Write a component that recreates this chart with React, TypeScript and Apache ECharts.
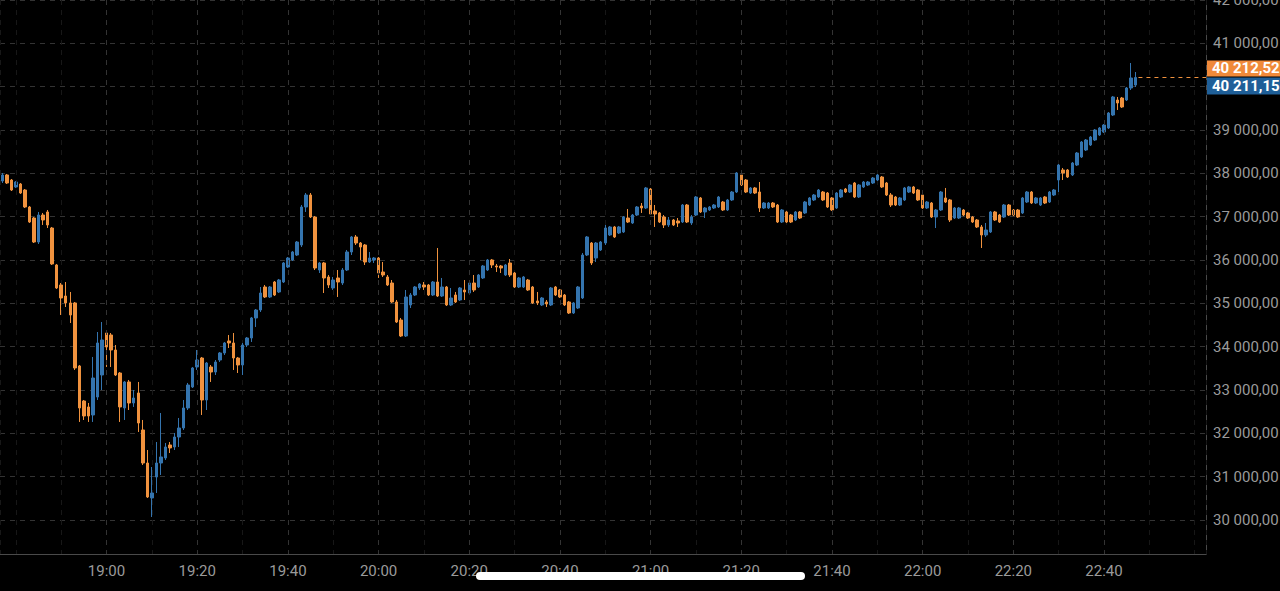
import React, { useEffect, useRef } from "react";
import * as echarts from "echarts";

// first candle time (1-minute candles), minutes relative to 19:00
const startTime = "18:37";
const axisAnchorHour = 19;

const opens = [
  37823, 37962, 37846, 37685, 37754, 37615, 37223, 36969, 36415, 37038,
  37108, 36738, 35885, 35423, 35169, 35008, 35008, 33554, 32746, 32608,
  32423, 32838, 33346, 34315, 34269, 33923, 33392, 32585, 33185, 32700,
  32931, 32077, 31315, 30508, 30992, 31315, 31431, 31731, 31685, 31915,
  32123, 32585, 33069, 33531, 33738, 32769, 33531, 33415, 33692, 33854,
  34131, 34085, 33738, 33577, 34038, 34200, 34662, 34846, 35377, 35146,
  35492, 35262, 35492, 35838, 36000, 36115, 36346, 37223, 37500, 36992,
  35769, 35931, 35608, 35354, 35585, 35469, 35769, 36185, 36531, 36392,
  36346, 35954, 36000, 36046, 35723, 35608, 35469, 35031, 34615, 34246,
  34962, 35192, 35354, 35423, 35423, 35192, 35492, 35169, 35377, 34962,
  35192, 35077, 35308, 35238, 35469, 35377, 35585, 35769, 36000, 35862,
  35862, 35654, 35931, 35700, 35377, 35377, 35538, 35377, 35054, 34962,
  35031, 34962, 35377, 35308, 35192, 35031, 34777, 34892, 35123, 36115,
  36392, 36046, 36231, 36392, 36577, 36762, 36623, 36646, 36969, 36854,
  37038, 37246, 37200, 37638, 37131, 37085, 36992, 36808, 36923, 36900,
  36877, 37269, 36854, 37038, 37431, 37108, 37154, 37200, 37223, 37338,
  37154, 37385, 37569, 37962, 37846, 37546, 37662, 37569, 37200, 37200,
  37315, 37269, 36877, 37108, 37038, 36923, 37108, 37085, 37269, 37385,
  37454, 37569, 37546, 37431, 37200, 37454, 37638, 37569, 37777, 37454,
  37685, 37731, 37777, 37846, 37915, 37777, 37500, 37454, 37269, 37385,
  37569, 37685, 37615, 37500, 37200, 37315, 36992, 37154, 37431, 37385,
  36969, 36969, 37154, 37085, 36992, 36923, 36762, 36577, 36646, 37108,
  37038, 36992, 37269, 37154, 37154, 37085, 37338, 37569, 37315, 37269,
  37454, 37338, 37500, 37846, 38077, 38077, 37962, 38192, 38377, 38538,
  38654, 38769, 38885, 38954, 39046, 39346, 39692, 39738, 39692, 39969,
  40038,
];

const closes = [
  37962, 37777, 37615, 37800, 37546, 37223, 36877, 36415, 37038, 36923,
  36808, 35908, 35354, 35123, 35008, 34731, 33508, 32585, 32400, 32400,
  33277, 34085, 34154, 33992, 33923, 33346, 32608, 33185, 32700, 32815,
  32238, 31315, 30531, 30623, 31315, 31454, 31685, 31662, 31915, 32123,
  32585, 33115, 33508, 33692, 32769, 33623, 33415, 33646, 33854, 34085,
  34085, 33738, 33577, 34038, 34200, 34662, 34846, 35238, 35146, 35377,
  35192, 35538, 35931, 36046, 36185, 36415, 37223, 37500, 36992, 35815,
  35931, 35585, 35423, 35538, 35492, 35769, 36185, 36531, 36392, 36300,
  35954, 36046, 36046, 35700, 35654, 35423, 35031, 34569, 34246, 35146,
  35192, 35377, 35446, 35377, 35192, 35492, 35169, 35377, 34962, 35123,
  35031, 35354, 35262, 35469, 35308, 35654, 35862, 36000, 35885, 35838,
  35815, 35885, 35654, 35377, 35585, 35608, 35308, 35008, 35008, 35123,
  34985, 35354, 35192, 35146, 34962, 34777, 35008, 35377, 36115, 36531,
  35931, 36392, 36415, 36738, 36762, 36531, 36762, 36992, 36877, 37038,
  37223, 37200, 37662, 37062, 37062, 36877, 36808, 36923, 36808, 36854,
  37269, 36877, 36992, 37454, 37108, 37200, 37223, 37269, 37454, 37154,
  37385, 37569, 38008, 37731, 37569, 37662, 37546, 37200, 37315, 37315,
  37223, 36877, 37154, 36877, 36877, 37108, 36969, 37338, 37431, 37500,
  37615, 37385, 37223, 37154, 37546, 37615, 37569, 37731, 37454, 37731,
  37800, 37800, 37892, 37962, 37685, 37500, 37269, 37269, 37431, 37662,
  37685, 37546, 37385, 37200, 37338, 36992, 37154, 37569, 37338, 36923,
  37200, 37200, 37038, 36969, 36877, 36762, 36577, 36692, 37108, 36923,
  36877, 37269, 37038, 37038, 36992, 37431, 37569, 37315, 37431, 37431,
  37315, 37569, 37615, 38192, 38008, 37915, 38238, 38469, 38723, 38769,
  38838, 39000, 39046, 39115, 39392, 39762, 39623, 39531, 39969, 40200,
  40212.52,
];

const lows = [
  37777, 37754, 37592, 37662, 37523, 37200, 36854, 36392, 36369, 36808,
  36738, 35885, 35331, 34731, 34915, 34546, 33462, 32262, 32308, 32262,
  32262, 32769, 33000, 33531, 33531, 33323, 32262, 32308, 32538, 32608,
  32031, 31269, 30508, 30069, 30623, 31038, 31385, 31546, 31615, 31685,
  32077, 32538, 33046, 33462, 32423, 32538, 33185, 33346, 33646, 33808,
  33969, 33462, 33392, 33346, 33992, 34108, 34454, 34800, 35123, 35123,
  35169, 35238, 35469, 35815, 35977, 36092, 36300, 37108, 36969, 35769,
  35700, 35238, 35354, 35308, 35146, 35423, 35746, 36115, 36346, 36000,
  35885, 35931, 35931, 35585, 35608, 35400, 35008, 34546, 34223, 34223,
  34892, 35169, 35308, 35308, 35169, 35169, 35146, 35146, 34938, 34938,
  35008, 35054, 35077, 35215, 35262, 35354, 35562, 35746, 35815, 35723,
  35700, 35631, 35608, 35354, 35354, 35354, 35285, 34985, 34962, 34938,
  34915, 34938, 35169, 35123, 34938, 34754, 34754, 34869, 35100, 36092,
  35885, 35954, 36208, 36346, 36554, 36508, 36600, 36623, 36854, 36831,
  37015, 37085, 37177, 37038, 36762, 36854, 36738, 36762, 36785, 36762,
  36854, 36854, 36808, 37015, 37085, 36969, 37131, 37177, 37200, 37131,
  37131, 37362, 37546, 37708, 37546, 37523, 37523, 37108, 37177, 37177,
  37200, 36854, 36854, 36854, 36854, 36900, 36946, 37062, 37246, 37362,
  37431, 37362, 37200, 37131, 37177, 37431, 37546, 37546, 37431, 37431,
  37662, 37708, 37754, 37823, 37662, 37477, 37223, 37246, 37246, 37362,
  37546, 37523, 37362, 37177, 37177, 36969, 36738, 37131, 37315, 36877,
  36946, 36946, 37015, 36946, 36854, 36738, 36277, 36531, 36623, 36900,
  36854, 36969, 37015, 37015, 36969, 37062, 37315, 37292, 37292, 37246,
  37292, 37315, 37477, 37569, 37846, 37892, 37938, 38169, 38354, 38515,
  38631, 38746, 38862, 38931, 39023, 39323, 39462, 39508, 39669, 39923,
  39992,
];

const highs = [
  38008, 37985, 37869, 37823, 37777, 37638, 37246, 36992, 37108, 37085,
  37154, 36762, 35908, 35469, 35492, 35262, 35031, 33577, 32769, 32700,
  33762, 34338, 34569, 34338, 34315, 34038, 33415, 33208, 33231, 33000,
  33185, 32308, 31615, 31223, 31800, 32469, 31777, 31800, 32008, 32354,
  32769, 33162, 33531, 33923, 33762, 33646, 33577, 33692, 33877, 34108,
  34269, 34315, 33762, 34085, 34223, 34685, 34869, 35377, 35423, 35400,
  35515, 35562, 35954, 36069, 36208, 36438, 37269, 37546, 37546, 37015,
  35954, 35954, 35654, 35608, 35769, 35815, 36231, 36554, 36577, 36415,
  36369, 36185, 36069, 36069, 35954, 35654, 35538, 35077, 34662, 35308,
  35238, 35400, 35469, 35492, 35446, 35515, 36277, 35585, 35400, 35354,
  35262, 35377, 35538, 35492, 35654, 35677, 35885, 36023, 36023, 35908,
  35885, 35908, 36023, 35723, 35608, 35631, 35562, 35400, 35262, 35146,
  35077, 35377, 35400, 35331, 35215, 35054, 35031, 35400, 36162, 36554,
  36415, 36415, 36438, 36808, 36785, 36785, 36785, 37015, 37177, 37062,
  37246, 37315, 37685, 37662, 37269, 37108, 37038, 36992, 36946, 36969,
  37292, 37292, 37038, 37477, 37454, 37223, 37246, 37292, 37477, 37362,
  37408, 37592, 38031, 37985, 37869, 37685, 37685, 37800, 37338, 37338,
  37338, 37292, 37177, 37131, 37062, 37131, 37131, 37362, 37454, 37523,
  37638, 37592, 37569, 37454, 37569, 37638, 37662, 37754, 37800, 37754,
  37823, 37823, 37915, 37985, 37938, 37800, 37546, 37477, 37454, 37685,
  37708, 37708, 37638, 37523, 37362, 37338, 37177, 37592, 37662, 37408,
  37223, 37223, 37177, 37108, 37015, 36946, 36808, 36854, 37131, 37131,
  37062, 37292, 37292, 37177, 37177, 37454, 37592, 37592, 37454, 37454,
  37477, 37592, 37638, 38215, 38123, 38100, 38262, 38492, 38746, 38792,
  38862, 39023, 39069, 39138, 39415, 39785, 39762, 39762, 39992, 40546,
  40338,
];

const askPrice = 40212.52;
const bidPrice = 40211.15;

// visible time labels (minutes relative to 19:00)
const labelFrom = 0;
const labelTo = 220;

const yMin = 29215;
const yMax = 42000;
const yStep = 1000;
const xStep = 20;
const xMinorStep = 10;

const BLUE = "#3474ae";
const ORANGE = "#f0923e";
const TAG_ORANGE = "#f08a3a";
const TAG_BLUE = "#1f5f98";
const GRID = "#333333";
const GRID_FAINT = "#171717";

function fmtPrice(v: number): string {
  const [i, d] = v.toFixed(2).split(".");
  return i.replace(/\B(?=(\d{3})+(?!\d))/g, " ") + "," + d;
}

function startOffset(): number {
  const [h, m] = startTime.split(":").map(Number);
  return h * 60 + m - axisAnchorHour * 60;
}

function fmtTime(v: number): string {
  const t = Math.round(axisAnchorHour * 60 + v);
  const h = Math.floor(t / 60) % 24;
  const m = ((t % 60) + 60) % 60;
  return `${h}:${m < 10 ? "0" + m : m}`;
}

export default function App() {
  const ref = useRef<HTMLDivElement>(null);

  useEffect(() => {
    if (!ref.current) return;
    const chart = echarts.init(ref.current, undefined, { renderer: "svg" });
    const off = startOffset();
    const data = opens.map((o, i) => [off + i, o, closes[i], lows[i], highs[i]]);
    const lastX = off + opens.length - 1;
    const xMin = off - 0.5;
    const xMax = 242.5;

    // split line colours, one per tick: [xMin, -20, 0, 20, ..., 240, xMax]
    const tickVals: number[] = [xMin];
    for (let v = Math.ceil(xMin / xStep) * xStep; v <= xMax; v += xStep) tickVals.push(v);
    tickVals.push(xMax);
    const mainColors = tickVals.map((v, i) => {
      if (i === 0 || i === tickVals.length - 1) return "rgba(0,0,0,0)";
      if (v < labelFrom || v > labelTo) return GRID_FAINT;
      return GRID;
    });

    const tagLow = askPrice - 500;
    const tagHigh = askPrice + 500;

    chart.setOption({
      animation: false,
      backgroundColor: "#000",
      grid: { left: 0, right: 74, top: 0, bottom: 37, containLabel: false, outerBoundsMode: "none" },
      xAxis: [
        {
          type: "value",
          min: xMin,
          max: xMax,
          minInterval: xStep,
          maxInterval: xStep,
          splitNumber: 13,
          position: "bottom",
          axisLine: { show: true, onZero: false, lineStyle: { color: "#4a4a4a", width: 1 } },
          axisTick: { show: false },
          axisLabel: {
            color: "#9a9a9a",
            fontSize: 15,
            fontFamily: "Roboto",
            margin: 9,
            showMinLabel: false,
            showMaxLabel: false,
            formatter: (v: number) => (v < labelFrom || v > labelTo ? "" : fmtTime(v)),
          },
          splitLine: { show: true, lineStyle: { color: mainColors, type: [5, 5], width: 1 } },
          z: 3,
        },
        {
          type: "value",
          min: xMin,
          max: xMax,
          minInterval: xMinorStep,
          maxInterval: xMinorStep,
          splitNumber: 26,
          position: "bottom",
          axisLine: { show: false, onZero: false },
          axisTick: { show: false },
          axisLabel: { show: false },
          splitLine: { show: true, lineStyle: { color: GRID_FAINT, type: [5, 5], width: 1 } },
          z: 1,
        },
      ],
      yAxis: {
        type: "value",
        position: "right",
        min: yMin,
        max: yMax,
        minInterval: yStep,
        maxInterval: yStep,
        splitNumber: 12,
        axisLine: { show: true, onZero: false, lineStyle: { color: "#4a4a4a", width: 1 } },
        axisTick: { show: false },
        axisLabel: {
          color: "#9a9a9a",
          fontSize: 15,
          fontFamily: "Roboto",
          margin: 7,
          align: "left",
          showMinLabel: false,
          formatter: (v: number) => (v > tagLow && v < tagHigh ? "" : fmtPrice(v)),
        },
        splitLine: { show: true, lineStyle: { color: GRID, type: [5, 5], width: 1 } },
      },
      series: [
        {
          type: "candlestick",
          xAxisIndex: 0,
          yAxisIndex: 0,
          data,
          encode: { x: 0, y: [1, 2, 3, 4] },
          barWidth: 3,
          itemStyle: {
            color: BLUE,
            color0: ORANGE,
            borderColor: BLUE,
            borderColor0: ORANGE,
            borderWidth: 1,
          },
          markLine: {
            silent: true,
            symbol: ["none", "none"],
            label: { show: false },
            lineStyle: { color: ORANGE, type: [4, 4], width: 1, opacity: 1 },
            data: [[{ coord: [lastX + 0.6, askPrice] }, { coord: [xMax, askPrice] }]],
          },
        },
      ],
    });

    const yPix = chart.convertToPixel({ yAxisIndex: 0 }, askPrice) as number;
    const xEdge = (chart.convertToPixel({ xAxisIndex: 0 }, xMax) as number) + 1;
    chart.setOption({
      graphic: [
        { type: "rect", z: 100, shape: { x: xEdge, y: yPix - 17, width: 80, height: 16 }, style: { fill: TAG_ORANGE } },
        {
          type: "text", z: 101, x: xEdge + 5, y: yPix - 9,
          style: { text: fmtPrice(askPrice), fill: "#fff", font: "bold 15px Roboto", verticalAlign: "middle" },
        },
        { type: "rect", z: 100, shape: { x: xEdge, y: yPix, width: 80, height: 17 }, style: { fill: TAG_BLUE } },
        {
          type: "text", z: 101, x: xEdge + 5, y: yPix + 8.5,
          style: { text: fmtPrice(bidPrice), fill: "#fff", font: "bold 15px Roboto", verticalAlign: "middle" },
        },
        { type: "rect", z: 200, shape: { x: 476, y: 572, width: 329, height: 8, r: 4 }, style: { fill: "#ffffff" } },
      ],
    });

    return () => chart.dispose();
  }, []);

  return (
    <div
      ref={ref}
      style={{ position: "fixed", left: 0, top: 0, width: 1280, height: 591, background: "#000" }}
    />
  );
}
